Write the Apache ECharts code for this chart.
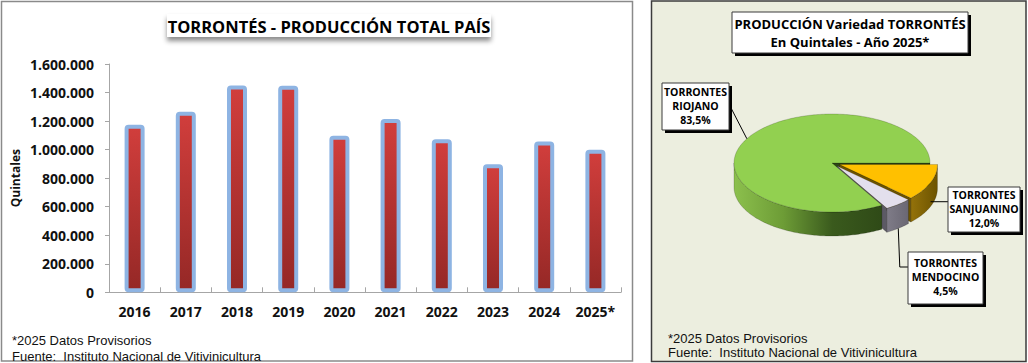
<!DOCTYPE html>
<html><head><meta charset="utf-8">
<script src="https://cdn.jsdelivr.net/npm/echarts@6/dist/echarts.min.js"></script>
<style>html,body{margin:0;padding:0;background:#fff}#c{width:1028px;height:363px}</style>
</head><body><div id="c"></div>
<script>
// ---------- DATA ----------
const years = ['2016','2017','2018','2019','2020','2021','2022','2023','2024','2025*'];
const production = [1175000,1265000,1450000,1448000,1098000,1215000,1072000,897000,1057000,999000];
const yMin = 0, yMax = 1600000, yStep = 200000;
const barTitle = 'TORRONTÉS - PRODUCCIÓN TOTAL PAÍS';
const yName = 'Quintales';
const pieNames = ['TORRONTES RIOJANO','TORRONTES SANJUANINO','TORRONTES MENDOCINO'];
const pieShares = [83.5, 12.0, 4.5];
const pieTitle = ['PRODUCCIÓN Variedad TORRONTÉS','En Quintales - Año 2025*'];
const footnote = ['*2025 Datos Provisorios','Fuente:  Instituto Nacional de Vitivinicultura'];

// ---------- LAYOUT / STYLE ----------
const P = {cx:832, cy:163, rx:98, ry:49, depth:24};
const clockOrder = [1,2,0];          // slices clockwise from 3 o'clock
const explode = [0,8,8];
const sliceStyle = [
  {top:'#92d050', wall:['#8cc04d','#6d9c36','#3a5a1d','#2f4a17'], cut:'#2c4516'},
  {top:'#ffc000', wall:['#94720a','#6c5300'], cut:'#6c5300'},
  {top:'#e3dfed', wall:['#7f7c88','#6a6773'], cut:'#5c5a65'}
];
const labelBox = [
  {x:662, y:83, w:67, h:47, route:'direct', to:[730,106]},
  {x:948, y:187, w:72, h:45, route:'h', anchorDepth:0.8},
  {x:908, y:252, w:75, h:52, route:'vh', elbowY:267, anchorDepth:1}
];

const fmt = v => String(v).replace(/\B(?=(\d{3})+(?!\d))/g, '.');
const total = pieShares.reduce((a,b)=>a+b,0);
const angles = [];
(function(){ let acc=0; clockOrder.forEach(i=>{ const s=acc/total*2*Math.PI; acc+=pieShares[i]; angles[i]=[s, acc/total*2*Math.PI]; }); })();

function renderSlice(params, api){
  const i = params.dataIndex;
  const share = api.value(0);
  const [a,b] = angles[i];
  const m = (a+b)/2, d = explode[i];
  const ox = P.cx + d*Math.cos(m), oy = P.cy + d*Math.sin(m)*P.ry/P.rx;
  const pt = (t,dy)=>[ox+P.rx*Math.cos(t), oy+P.ry*Math.sin(t)+(dy||0)];
  const arc = (t0,t1,dy)=>{ const n=Math.max(2,Math.ceil(Math.abs(t1-t0)/0.02)); const r=[]; for(let k=0;k<=n;k++) r.push(pt(t0+(t1-t0)*k/n,dy)); return r; };
  const st = sliceStyle[i];
  const ch = [];
  const edge = 'rgba(0,0,0,0.35)';
  const cut = t => ({type:'polygon', z2:i, shape:{points:[[ox,oy],pt(t),pt(t,P.depth),[ox,oy+P.depth]]}, style:{fill:st.cut, stroke:edge, lineWidth:0.5}});
  if (-Math.cos(a) > 0.001) ch.push(cut(a));
  if (Math.cos(b) > 0.001) ch.push(cut(b));
  const lo = Math.max(a,0), hi = Math.min(b,Math.PI);
  if (hi > lo) {
    const stops = st.wall.map((c,k)=>({offset:k/(st.wall.length-1), color:c}));
    ch.push({type:'polygon', z2:10+i, shape:{points: arc(lo,hi,0).concat(arc(hi,lo,P.depth))},
      style:{fill:new echarts.graphic.LinearGradient(0,0,1,0,stops), stroke:edge, lineWidth:0.5}});
  }
  ch.push({type:'polygon', z2:20+i, shape:{points:[[ox,oy]].concat(arc(a,b,0))}, style:{fill:st.top, stroke:edge, lineWidth:0.5}});
  // label + leader
  const L = labelBox[i];
  let anc, pts;
  if (L.route==='direct'){ anc = pt(m); pts=[anc, L.to]; }
  else if (L.route==='h'){ anc = pt(m, P.depth*L.anchorDepth); pts=[anc,[L.x, anc[1]]]; }
  else { anc = pt(m, P.depth*L.anchorDepth); pts=[anc,[anc[0]+1.5, L.elbowY],[L.x, L.elbowY]]; }
  ch.push({type:'polyline', z2:50, shape:{points:pts}, style:{stroke:'#000', lineWidth:1, fill:null}});
  ch.push({type:'rect', z2:51, shape:{x:L.x+3, y:L.y+3, width:L.w, height:L.h}, style:{fill:'#000'}});
  ch.push({type:'rect', z2:52, shape:{x:L.x, y:L.y, width:L.w, height:L.h}, style:{fill:'#fff', stroke:'#3a3a3a', lineWidth:1}});
  const nm = pieNames[i].split(' ');
  const txt = nm[0] + '\n' + nm.slice(1).join(' ') + '\n' + share.toFixed(1).replace('.',',') + '%';
  ch.push({type:'text', z2:53, style:{text:txt, x:L.x+L.w/2, y:L.y+L.h/2-1, align:'center', verticalAlign:'middle',
    fontFamily:'Open Sans', fontWeight:'bold', fontSize:10.5, lineHeight:14, fill:'#000'}});
  return {type:'group', children:ch};
}

const chart = echarts.init(document.getElementById('c'), null, {renderer:'svg'});
chart.setOption({
  animation:false,
  backgroundColor:'#fff',
  graphic:[
    {type:'rect', z:-10, shape:{x:1.5, y:1.5, width:631, height:359.5}, style:{fill:'#fff', stroke:'#8a8a8a', lineWidth:1.5}},
    {type:'rect', z:-10, shape:{x:651.5, y:1, width:374.5, height:360.5}, style:{fill:'#eceedf', stroke:'#3c3c3c', lineWidth:1.5}},
    {type:'rect', z:5, shape:{x:167, y:14, width:324, height:23}, style:{fill:'#fff', shadowBlur:5, shadowOffsetY:4, shadowColor:'rgba(0,0,0,0.45)'}},
    {type:'text', z:6, style:{text:barTitle, x:329, y:26, align:'center', verticalAlign:'middle', fontFamily:'Open Sans', fontWeight:'bold', fontSize:16.5, fill:'#000'}},
    {type:'rect', z:5, shape:{x:735, y:15, width:236, height:41}, style:{fill:'#000'}},
    {type:'rect', z:6, shape:{x:732, y:12, width:236, height:41}, style:{fill:'#fff', stroke:'#3a3a3a', lineWidth:1}},
    {type:'text', z:7, style:{text:pieTitle.join('\n'), x:850, y:32.5, align:'center', verticalAlign:'middle', fontFamily:'Open Sans', fontWeight:'bold', fontSize:13, lineHeight:18, fill:'#000'}},
    {type:'text', z:6, style:{text:footnote.join('\n'), x:12, y:348, verticalAlign:'middle', fontFamily:'Liberation Sans', fontSize:13, lineHeight:16, fill:'#111'}},
    {type:'text', z:6, style:{text:footnote.join('\n'), x:668, y:345, verticalAlign:'middle', fontFamily:'Liberation Sans', fontSize:13, lineHeight:14, fill:'#111'}}
  ],
  grid:{left:109, right:407, top:64, bottom:70.7, containLabel:false},
  xAxis:{type:'category', data:years,
    axisLine:{lineStyle:{color:'#a6a6a6', width:1}},
    axisTick:{show:true, inside:true, length:5, lineStyle:{color:'#a6a6a6'}},
    axisLabel:{interval:0, margin:12, fontFamily:'Open Sans', fontWeight:'bold', fontSize:14, color:'#111'}},
  yAxis:{type:'value', min:yMin, max:yMax, interval:yStep,
    name:yName, nameLocation:'middle', nameRotate:90, nameGap:88,
    nameTextStyle:{fontFamily:'Open Sans', fontWeight:'bold', fontSize:12, color:'#111'},
    axisLine:{show:true, lineStyle:{color:'#a6a6a6', width:1}},
    axisTick:{show:true, length:4, lineStyle:{color:'#a6a6a6'}},
    splitLine:{show:false},
    axisLabel:{margin:15, formatter:fmt, fontFamily:'Open Sans', fontWeight:'bold', fontSize:14, color:'#111'}},
  series:[
    {type:'bar', data:production, barWidth:20,
      itemStyle:{color:new echarts.graphic.LinearGradient(0,0,0,1,[{offset:0,color:'#d13e3c'},{offset:1,color:'#952826'}]),
        borderColor:'#8eb4e3', borderWidth:4, borderRadius:2}},
    {type:'custom', coordinateSystem:'none', silent:true, renderItem:renderSlice,
      data: pieShares.map((v,k)=>({name:pieNames[k], value:[v]}))}
  ]
});
</script></body></html>
